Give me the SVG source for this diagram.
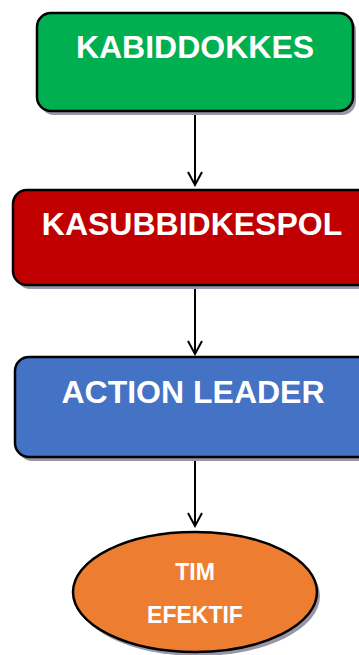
<svg xmlns="http://www.w3.org/2000/svg" width="359" height="655" viewBox="0 0 359 655">
<defs>
<style>
.node{stroke:#000;stroke-width:2.5}
.shadow{fill:#9a96a8}
.t{font-family:"Liberation Sans",Arial,sans-serif;font-weight:bold;fill:#fff;text-anchor:middle}
.c{stroke:#000;stroke-width:2;fill:none}
</style>
<marker id="arr" viewBox="0 0 16 16" refX="14" refY="8" markerWidth="16" markerHeight="16" markerUnits="userSpaceOnUse" orient="auto">
<path d="M1,1 L14,8 L1,15" fill="none" stroke="#000" stroke-width="2"/>
</marker>
</defs>
<rect width="359" height="655" fill="#fff"/>
<g id="connectors">
<line class="c" x1="195" y1="112" x2="195" y2="185" marker-end="url(#arr)"/>
<line class="c" x1="195" y1="286" x2="195" y2="354" marker-end="url(#arr)"/>
<line class="c" x1="195" y1="458" x2="195" y2="526" marker-end="url(#arr)"/>
</g>
<g id="kabiddokkes">
<rect class="shadow" x="40" y="17" width="316" height="98" rx="14"/>
<rect class="node" x="37" y="13" width="316" height="98" rx="14" fill="#00b050"/>
<text class="t" x="195" y="58" font-size="32">KABIDDOKKES</text>
</g>
<g id="kasubbidkespol">
<rect class="shadow" x="16" y="194" width="360" height="95" rx="14"/>
<rect class="node" x="13" y="190" width="360" height="95" rx="14" fill="#c00000"/>
<text class="t" x="192" y="235" font-size="32">KASUBBIDKESPOL</text>
</g>
<g id="action-leader">
<rect class="shadow" x="18" y="361" width="360" height="100" rx="14"/>
<rect class="node" x="15" y="357" width="360" height="100" rx="14" fill="#4472c4"/>
<text class="t" x="193" y="403" font-size="32">ACTION LEADER</text>
</g>
<g id="tim-efektif">
<ellipse class="shadow" cx="198" cy="596" rx="122" ry="60"/>
<ellipse class="node" cx="195" cy="592" rx="122" ry="60" fill="#ed7d31"/>
<text class="t" x="195" y="580" font-size="23">TIM</text>
<text class="t" x="195" y="623" font-size="23">EFEKTIF</text>
</g>
</svg>
